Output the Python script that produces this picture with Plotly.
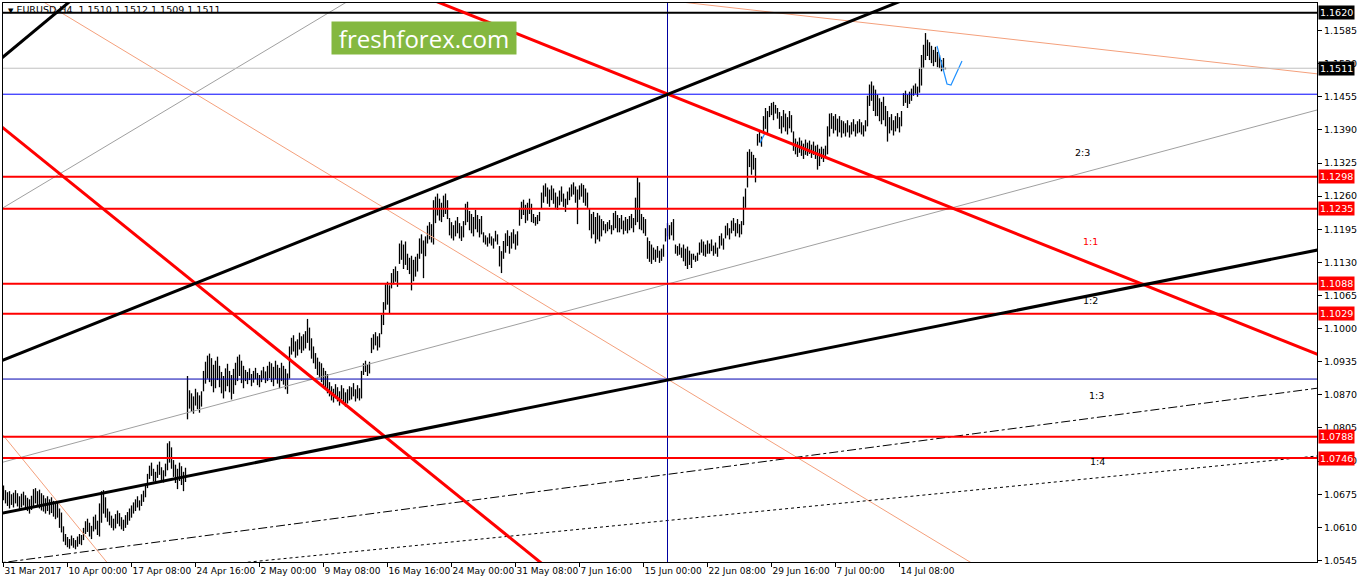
import plotly.graph_objects as go

# ---------------- price bars (H4, one per 4 hours, weekends skipped) ----------------
HIGH = [
    1.0692, 1.0683, 1.0679, 1.0681, 1.0675, 1.0678, 1.0683, 1.0677, 1.0671, 1.0676,
    1.0680, 1.0673, 1.0668, 1.0665, 1.0672, 1.0685, 1.0687, 1.0681, 1.0684, 1.0677,
    1.0673, 1.0667, 1.0671, 1.0665, 1.0669, 1.0662, 1.0657, 1.0661, 1.0647, 1.0639,
    1.0612, 1.0597, 1.0591, 1.0587, 1.0594, 1.0589, 1.0585, 1.0592, 1.0597, 1.0595,
    1.0609, 1.0622, 1.0627, 1.0619, 1.0613, 1.0631, 1.0635, 1.0623,
    1.0657, 1.0681, 1.0683, 1.0669,
    1.0647, 1.0641, 1.0633, 1.0627, 1.0636, 1.0643, 1.0638, 1.0630, 1.0625, 1.0634, 1.0640, 1.0647, 1.0653,
    1.0659, 1.0665, 1.0671, 1.0663, 1.0675, 1.0682, 1.0693,
    1.0715, 1.0731, 1.0737, 1.0725, 1.0719, 1.0733, 1.0739, 1.0728, 1.0722, 1.0735,
    1.0775, 1.0779, 1.0767,
    1.0742, 1.0733, 1.0725, 1.0737, 1.0730, 1.0719, 1.0727,
    1.0907,
    1.0879, 1.0873, 1.0867, 1.0882, 1.0875, 1.0869, 1.0877,
    1.0917, 1.0935, 1.0947, 1.0951, 1.0942, 1.0929, 1.0937, 1.0945,
    1.0927, 1.0915, 1.0907, 1.0922, 1.0931, 1.0917, 1.0909, 1.0921,
    1.0933, 1.0945, 1.0949, 1.0937, 1.0927,
    1.0919, 1.0915, 1.0922, 1.0911, 1.0917, 1.0923, 1.0913, 1.0909, 1.0918, 1.0925, 1.0916,
    1.0927, 1.0935, 1.0932, 1.0925, 1.0937, 1.0929, 1.0923, 1.0933, 1.0927, 1.0921,
    1.0912,
    1.0965, 1.0982, 1.0987, 1.0975, 1.0979, 1.0992, 1.0985, 1.0989, 1.0995, 1.1019, 1.1002, 1.0981,
    1.0965, 1.0952, 1.0943, 1.0935, 1.0932, 1.0923, 1.0917, 1.0911,
    1.0895, 1.0887, 1.0882, 1.0891, 1.0885, 1.0877, 1.0889, 1.0883, 1.0875, 1.0881, 1.0887,
    1.0885, 1.0893, 1.0881, 1.0889, 1.0883, 1.0917,
    1.0932, 1.0937, 1.0929, 1.0935,
    1.0982, 1.0989, 1.0993, 1.0985, 1.0991,
    1.1027, 1.1052,
    1.1087, 1.1092, 1.1085, 1.1109, 1.1117, 1.1122, 1.1113,
    1.1167, 1.1173, 1.1165, 1.1171,
    1.1147, 1.1139, 1.1143, 1.1135, 1.1141, 1.1147,
    1.1177, 1.1185, 1.1173, 1.1181,
    1.1202, 1.1209, 1.1205,
    1.1252, 1.1259, 1.1265, 1.1255, 1.1247, 1.1261, 1.1265, 1.1252,
    1.1217, 1.1209, 1.1203, 1.1212, 1.1219, 1.1207, 1.1201, 1.1211,
    1.1245, 1.1249,
    1.1231, 1.1225, 1.1219, 1.1233, 1.1223, 1.1215, 1.1221,
    1.1189, 1.1183, 1.1179, 1.1187, 1.1181, 1.1177, 1.1192, 1.1185,
    1.1162, 1.1152,
    1.1172, 1.1187, 1.1193, 1.1182, 1.1189, 1.1195, 1.1185, 1.1191,
    1.1237, 1.1249, 1.1253, 1.1243, 1.1247, 1.1255, 1.1245,
    1.1225, 1.1219, 1.1223, 1.1229,
    1.1267, 1.1281, 1.1285, 1.1277, 1.1273, 1.1281,
    1.1275, 1.1267, 1.1259, 1.1271, 1.1279, 1.1265, 1.1255, 1.1269,
    1.1277, 1.1283, 1.1287, 1.1279, 1.1273, 1.1281, 1.1285,
    1.1282, 1.1275, 1.1267,
    1.1235, 1.1225, 1.1229, 1.1219, 1.1227, 1.1222, 1.1215,
    1.1211, 1.1205, 1.1209, 1.1213, 1.1203,
    1.1227, 1.1231, 1.1223,
    1.1217, 1.1223, 1.1212, 1.1219, 1.1215, 1.1221, 1.1225, 1.1217,
    1.1257, 1.1297, 1.1287,
    1.1225, 1.1219, 1.1215,
    1.1179, 1.1172, 1.1165,
    1.1159, 1.1155, 1.1162, 1.1153, 1.1157, 1.1165,
    1.1197, 1.1207, 1.1203, 1.1209, 1.1215,
    1.1165, 1.1162, 1.1167, 1.1159,
    1.1165, 1.1157, 1.1161, 1.1153, 1.1147,
    1.1147, 1.1143, 1.1149,
    1.1169, 1.1175, 1.1171, 1.1165, 1.1173,
    1.1167, 1.1175, 1.1163, 1.1169, 1.1159,
    1.1182, 1.1187, 1.1177,
    1.1202, 1.1207, 1.1197,
    1.1212, 1.1217, 1.1207, 1.1215, 1.1205, 1.1211,
    1.1259, 1.1275,
    1.1347,
    1.1352, 1.1347, 1.1341, 1.1335,
    1.1382, 1.1387, 1.1377,
    1.1417, 1.1433, 1.1427,
    1.1437, 1.1443, 1.1445, 1.1439, 1.1433,
    1.1425, 1.1417, 1.1429, 1.1422, 1.1415, 1.1427, 1.1419,
    1.1387, 1.1373, 1.1367, 1.1375, 1.1369, 1.1363, 1.1371,
    1.1365, 1.1369, 1.1361, 1.1367, 1.1359,
    1.1361, 1.1353,
    1.1357, 1.1353, 1.1359,
    1.1397, 1.1422,
    1.1423, 1.1417, 1.1421, 1.1412, 1.1417, 1.1409,
    1.1407, 1.1403, 1.1409, 1.1399, 1.1405, 1.1411, 1.1401, 1.1407,
    1.1411, 1.1405, 1.1399, 1.1409,
    1.1457, 1.1479, 1.1485, 1.1477, 1.1469,
    1.1459, 1.1452, 1.1445, 1.1455, 1.1437,
    1.1427,
    1.1415, 1.1421, 1.1409, 1.1417, 1.1423, 1.1415, 1.1427,
    1.1462, 1.1467, 1.1459, 1.1465, 1.1471,
    1.1477, 1.1481, 1.1475,
    1.1512, 1.1537,
    1.1557, 1.1580, 1.1567,
    1.1562, 1.1555, 1.1547, 1.1553, 1.1543,
    1.1537, 1.1527, 1.1531, 1.1512,
]
LOW = [
    1.0663, 1.0657, 1.0652, 1.0647, 1.0654, 1.0649, 1.0657, 1.0651, 1.0645, 1.0649,
    1.0653, 1.0646, 1.0642, 1.0637, 1.0644, 1.0652, 1.0657, 1.0650, 1.0647, 1.0643,
    1.0641, 1.0637, 1.0642, 1.0635, 1.0638, 1.0631, 1.0626, 1.0629, 1.0609, 1.0600,
    1.0582, 1.0575, 1.0571, 1.0568, 1.0574, 1.0570, 1.0567, 1.0572, 1.0577, 1.0575,
    1.0585, 1.0597, 1.0601, 1.0592, 1.0587, 1.0602, 1.0606, 1.0595,
    1.0592, 1.0619, 1.0637, 1.0629,
    1.0621, 1.0614, 1.0609, 1.0604, 1.0608, 1.0617, 1.0612, 1.0606, 1.0603, 1.0609, 1.0615, 1.0623, 1.0629,
    1.0637, 1.0642, 1.0649, 1.0643, 1.0652, 1.0660, 1.0669,
    1.0687, 1.0705, 1.0711, 1.0700, 1.0696, 1.0707, 1.0713, 1.0703, 1.0698, 1.0710,
    1.0722, 1.0737, 1.0725,
    1.0709, 1.0697, 1.0685, 1.0701, 1.0693, 1.0681, 1.0699,
    1.0822,
    1.0843, 1.0837, 1.0833, 1.0849, 1.0842, 1.0835, 1.0847,
    1.0877, 1.0892, 1.0902, 1.0895, 1.0887, 1.0875, 1.0883, 1.0899,
    1.0885, 1.0873, 1.0863, 1.0877, 1.0887, 1.0875, 1.0861, 1.0872,
    1.0889, 1.0897, 1.0907, 1.0893, 1.0883,
    1.0897, 1.0891, 1.0899, 1.0887, 1.0894, 1.0901, 1.0889, 1.0885, 1.0895, 1.0902, 1.0893,
    1.0897, 1.0903, 1.0895, 1.0887, 1.0901, 1.0892, 1.0883, 1.0897, 1.0890, 1.0881,
    1.0872,
    1.0902, 1.0949, 1.0955, 1.0943, 1.0947, 1.0959, 1.0952, 1.0957, 1.0961, 1.0972, 1.0957, 1.0941,
    1.0932, 1.0921, 1.0909, 1.0903, 1.0895, 1.0887, 1.0881, 1.0873,
    1.0867, 1.0859, 1.0855, 1.0863, 1.0857, 1.0849, 1.0861, 1.0855, 1.0847, 1.0853, 1.0859,
    1.0861, 1.0867, 1.0857, 1.0863, 1.0859, 1.0863,
    1.0909, 1.0915, 1.0907, 1.0912,
    1.0952, 1.0959, 1.0967, 1.0957, 1.0963,
    1.0989, 1.1007,
    1.1037, 1.1047, 1.1029, 1.1079, 1.1087, 1.1092, 1.1082,
    1.1127, 1.1135, 1.1117, 1.1125,
    1.1115, 1.1107, 1.1075, 1.1093, 1.1102, 1.1112,
    1.1137, 1.1147, 1.1099, 1.1142,
    1.1167, 1.1175, 1.1169,
    1.1165, 1.1207, 1.1222, 1.1212, 1.1209, 1.1219, 1.1225, 1.1215,
    1.1183, 1.1177, 1.1173, 1.1181, 1.1187, 1.1177, 1.1172, 1.1179,
    1.1203, 1.1209,
    1.1193, 1.1187, 1.1181, 1.1195, 1.1189, 1.1179, 1.1185,
    1.1169, 1.1165, 1.1161, 1.1167, 1.1163, 1.1157, 1.1171, 1.1165,
    1.1122, 1.1109,
    1.1137, 1.1149, 1.1162, 1.1147, 1.1157, 1.1167, 1.1155, 1.1163,
    1.1202, 1.1215, 1.1223, 1.1207, 1.1212, 1.1225, 1.1209,
    1.1207, 1.1202, 1.1205, 1.1211,
    1.1235, 1.1247, 1.1259, 1.1245, 1.1239, 1.1252,
    1.1245, 1.1237, 1.1233, 1.1242, 1.1249, 1.1239, 1.1229, 1.1243,
    1.1252, 1.1259, 1.1263, 1.1247, 1.1205, 1.1253, 1.1259,
    1.1247, 1.1241, 1.1237,
    1.1193, 1.1177, 1.1185, 1.1167, 1.1175, 1.1171, 1.1181,
    1.1193, 1.1187, 1.1191, 1.1195, 1.1185,
    1.1193, 1.1197, 1.1189,
    1.1189, 1.1195, 1.1185, 1.1192, 1.1187, 1.1193, 1.1197, 1.1189,
    1.1203, 1.1209, 1.1195,
    1.1193, 1.1187, 1.1182,
    1.1137, 1.1131, 1.1127,
    1.1135, 1.1131, 1.1139, 1.1129, 1.1133, 1.1141,
    1.1171, 1.1181, 1.1175, 1.1183, 1.1173,
    1.1147, 1.1143, 1.1145, 1.1139,
    1.1132, 1.1123, 1.1117, 1.1125, 1.1119,
    1.1135, 1.1131, 1.1133,
    1.1145, 1.1149, 1.1143, 1.1141, 1.1147,
    1.1147, 1.1152, 1.1143, 1.1147, 1.1141,
    1.1157, 1.1163, 1.1155,
    1.1177, 1.1183, 1.1175,
    1.1187, 1.1192, 1.1181, 1.1187, 1.1179, 1.1185,
    1.1203, 1.1237,
    1.1277,
    1.1317, 1.1302, 1.1312, 1.1287,
    1.1359, 1.1365, 1.1357,
    1.1385, 1.1392, 1.1382,
    1.1415, 1.1419, 1.1409, 1.1422, 1.1412,
    1.1392, 1.1383, 1.1395, 1.1387, 1.1381, 1.1393, 1.1385,
    1.1349, 1.1342, 1.1337, 1.1345, 1.1339, 1.1333, 1.1341,
    1.1339, 1.1343, 1.1335, 1.1341, 1.1333,
    1.1312, 1.1319,
    1.1333, 1.1327, 1.1335,
    1.1342, 1.1377,
    1.1392, 1.1383, 1.1389, 1.1377, 1.1385, 1.1375,
    1.1383, 1.1377, 1.1385, 1.1375, 1.1381, 1.1387, 1.1377, 1.1383,
    1.1385, 1.1381, 1.1377, 1.1387,
    1.1397, 1.1437, 1.1447, 1.1427, 1.1417,
    1.1417, 1.1407, 1.1401, 1.1409, 1.1397,
    1.1367,
    1.1383, 1.1389, 1.1379, 1.1387, 1.1393, 1.1385, 1.1397,
    1.1437, 1.1443, 1.1433, 1.1441, 1.1447,
    1.1457, 1.1461, 1.1455,
    1.1463, 1.1477,
    1.1512, 1.1527, 1.1535,
    1.1527, 1.1521, 1.1515, 1.1523, 1.1513,
    1.1511, 1.1505, 1.1507, 1.1509,
]

# ---------------- axes ----------------
X_TICK_IDX = [0, 32, 64, 96, 128, 160, 192, 224, 256, 288, 320, 352, 384, 416, 448]
X_TICK_TEXT = ["31 Mar 2017", "10 Apr 00:00", "17 Apr 08:00", "24 Apr 16:00", "2 May 00:00",
               "9 May 08:00", "16 May 16:00", "24 May 00:00", "31 May 08:00", "7 Jun 16:00",
               "15 Jun 00:00", "22 Jun 08:00", "29 Jun 16:00", "7 Jul 00:00", "14 Jul 08:00"]
Y_TICKS = [1.0545, 1.0610, 1.0675, 1.0740, 1.0805, 1.0870, 1.0935, 1.1000, 1.1065,
           1.1130, 1.1195, 1.1260, 1.1325, 1.1390, 1.1455, 1.1520, 1.1585]
X_RANGE = [-0.25, 656.75]
Y_RANGE = [1.0542, 1.1639]

# ---------------- horizontal levels ----------------
RED_LEVELS = [1.1298, 1.1235, 1.1088, 1.1029, 1.0788, 1.0746]
BLACK_LEVEL = 1.1620
BID = 1.1511
BLUE_LEVELS = [1.1460, 1.0901]
VLINE_IDX = 332

# ---------------- trend lines: (bar index, price) anchor pairs ----------------
CHANNEL_UP_BLACK = [(-0.25, 1.0938), (332.25, 1.1460)]
LOWER_BLACK = [(-0.25, 1.0638), (656.75, 1.1154)]
TOPLEFT_BLACK = [(-0.25, 1.1533), (32.25, 1.1639)]
RED_DOWN_RIGHT = [(332.25, 1.1460), (656.75, 1.0950)]
RED_DOWN_LEFT = [(-0.25, 1.1394), (268.25, 1.0542)]
SALMON_1 = [(26.75, 1.1625), (483.25, 1.0542)]
SALMON_2 = [(-0.25, 1.0791), (50.75, 1.0546)]
SALMON_3 = [(343.25, 1.1639), (656.75, 1.1500)]
GRAY_1 = [(-0.25, 1.1237), (170.75, 1.1639)]
GRAY_2 = [(-0.25, 1.0738), (656.75, 1.1429)]
DASHDOT_LINE = [(13.25, 1.0548), (656.75, 1.0883)]
DOTTED_LINE = [(128.25, 1.0544), (656.75, 1.0750)]
WAVE_X = [466.75, 471.75, 473.75, 479.25]
WAVE_Y = [1.1555, 1.1480, 1.1478, 1.1525]
SMALL_WAVE_X = [378.25, 380.75]
SMALL_WAVE_Y = [1.1364, 1.1384]

RATIO_TEXT = ["2:3", "1:1", "1:2", "1:3", "1:4"]
RATIO_X = [539.5, 543.5, 543.5, 546.5, 547.0]
RATIO_Y = [1.1345, 1.1170, 1.1056, 1.0868, 1.0740]
RATIO_COLOR = ["black", "red", "black", "black", "black"]

FONT = "DejaVu Sans"

fig = go.Figure()

# bars as vertical high-low segments
n = min(len(HIGH), len(LOW))
bx, by = [], []
for i in range(n):
    bx += [i, i, None]
    by += [LOW[i], HIGH[i], None]
fig.add_trace(go.Scatter(x=bx, y=by, mode="lines", line=dict(color="black", width=1.3),
                         hoverinfo="skip", showlegend=False))


def extend(pair, x0=-60.0, x1=760.0):
    (xa, ya), (xb, yb) = pair
    k = (yb - ya) / (xb - xa)
    return x0, ya + k * (x0 - xa), x1, ya + k * (x1 - xa)


shapes = []


def tline(pair, color, width, dash="solid"):
    x0, y0, x1, y1 = extend(pair)
    shapes.append(dict(type="line", xref="x", yref="y", x0=x0, y0=y0, x1=x1, y1=y1,
                       line=dict(color=color, width=width, dash=dash)))


def hline(p, color, width):
    shapes.append(dict(type="line", xref="x", yref="y", x0=X_RANGE[0] - 5, x1=X_RANGE[1] + 5,
                       y0=p, y1=p, line=dict(color=color, width=width)))


# thin lines first
tline(GRAY_1, "#a0a0a0", 1)
tline(GRAY_2, "#a0a0a0", 1)
tline(SALMON_1, "#f4a07c", 1)
tline(SALMON_2, "#f4a07c", 1)
tline(SALMON_3, "#f4a07c", 1)
tline(DASHDOT_LINE, "black", 1, "dashdot")
tline(DOTTED_LINE, "black", 1, "dot")
hline(BID, "#c0c0c0", 1)
hline(BLUE_LEVELS[0], "#0000ff", 1)
hline(BLUE_LEVELS[1], "#0000b0", 1)
shapes.append(dict(type="line", xref="x", yref="y", x0=VLINE_IDX, x1=VLINE_IDX,
                   y0=Y_RANGE[0] - 0.01, y1=Y_RANGE[1] + 0.01,
                   line=dict(color="#0000a0", width=1)))
for p in RED_LEVELS:
    hline(p, "#ff0000", 2)
hline(BLACK_LEVEL, "black", 2)
tline(RED_DOWN_RIGHT, "#ff0000", 3)
tline(RED_DOWN_LEFT, "#ff0000", 3)
tline(CHANNEL_UP_BLACK, "black", 3)
tline(LOWER_BLACK, "black", 3)
tline(TOPLEFT_BLACK, "black", 3)

fig.add_trace(go.Scatter(x=WAVE_X, y=WAVE_Y, mode="lines", line=dict(color="#1e90ff", width=1.2),
                         hoverinfo="skip", showlegend=False))
fig.add_trace(go.Scatter(x=SMALL_WAVE_X, y=SMALL_WAVE_Y, mode="lines",
                         line=dict(color="#1e90ff", width=1.2), hoverinfo="skip", showlegend=False))

annotations = []
# price tags on the right axis
for p, bg in [(BLACK_LEVEL, "black"), (BID, "black")] + [(p, "#ff0000") for p in RED_LEVELS]:
    annotations.append(dict(xref="paper", yref="y", x=1, y=p, xanchor="left", yanchor="middle",
                            xshift=1, text=f"{p:.4f}", showarrow=False, bgcolor=bg,
                            font=dict(family=FONT, size=9.5, color="white"), borderpad=1))
# ratio labels
for t, x, y, c in zip(RATIO_TEXT, RATIO_X, RATIO_Y, RATIO_COLOR):
    annotations.append(dict(xref="x", yref="y", x=x, y=y, text=t, showarrow=False,
                            font=dict(family=FONT, size=9.5, color=c)))
# header
annotations.append(dict(xref="paper", yref="paper", x=0, y=1, xanchor="left", yanchor="top",
                        xshift=3, yshift=1,
                        text="<span style='font-size:7px'>▼</span> EURUSD,H4  1.1510 1.1512 1.1509 1.1511",
                        showarrow=False, font=dict(family=FONT, size=9.5, color="black")))
# logo
annotations.append(dict(xref="paper", yref="paper", x=(424 - 3) / 1314, y=1 - (38 - 3) / 559,
                        xanchor="center", yanchor="middle", text="freshforex.com",
                        showarrow=False, bgcolor="#84b840", width=182, height=30,
                        font=dict(family="Open Sans", size=24, color="white"), borderpad=1))

fig.update_layout(
    width=1358, height=584,
    margin=dict(l=3, r=41, t=3, b=22, autoexpand=False),
    paper_bgcolor="white", plot_bgcolor="white",
    showlegend=False,
    shapes=shapes,
    annotations=annotations,
    xaxis=dict(range=X_RANGE, tickmode="array", tickvals=X_TICK_IDX, ticktext=X_TICK_TEXT,
               ticks="outside", ticklen=4, tickcolor="black", showgrid=False, zeroline=False,
               showline=True, linecolor="black", linewidth=1, mirror=True,
               ticklabelposition="outside right", tickangle=0, automargin=False,
               tickfont=dict(family=FONT, size=9, color="black")),
    yaxis=dict(range=Y_RANGE, side="right", tickmode="array", tickvals=Y_TICKS,
               tickformat=".4f", ticks="outside", ticklen=4, tickcolor="black", automargin=False,
               showgrid=False, zeroline=False, showline=True, linecolor="black", linewidth=1,
               mirror=True, tickfont=dict(family=FONT, size=9.5, color="black")),
)

fig.write_html("out.html", config={"displayModeBar": False},
               post_script="document.body.style.margin='0px';document.body.style.padding='0px';")
